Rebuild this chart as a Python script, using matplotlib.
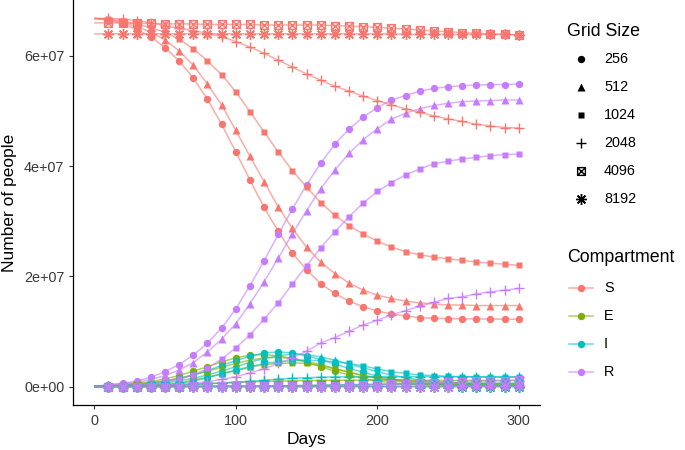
import matplotlib
matplotlib.use("Agg")
import matplotlib.pyplot as plt
from matplotlib.path import Path
from matplotlib.lines import Line2D
from matplotlib.ticker import FuncFormatter

plt.rcParams['font.family'] = ['Liberation Sans', 'DejaVu Sans']

# ---------------- data (millions of people) ----------------
days = list(range(0, 301, 10))
grid_sizes = ['256', '512', '1024', '2048', '4096', '8192']
compartments = ['S', 'E', 'I', 'R']
x_ticks = [0, 100, 200, 300]
y_ticks = [0, 2e7, 4e7, 6e7]

S_256 = [66.8, 66.5, 65.8, 64.8, 63.5, 61.5, 59.1, 56.0, 52.1, 47.6, 42.6, 37.5, 32.5, 28.2, 24.2, 21.2,
         18.7, 16.9, 15.5, 14.5, 13.7, 13.2, 12.8, 12.5, 12.4, 12.35, 12.3, 12.3, 12.25, 12.25, 12.2]
E_256 = [0.05, 0.2, 0.35, 0.6, 0.9, 1.4, 2.0, 2.8, 3.6, 4.5, 5.2, 5.7, 5.8, 5.6, 5.1, 4.4,
         3.6, 2.8, 2.1, 1.5, 1.0, 0.7, 0.5, 0.35, 0.25, 0.2, 0.15, 0.12, 0.1, 0.08, 0.07]
I_256 = [0.02, 0.1, 0.25, 0.4, 0.6, 1.0, 1.5, 2.1, 2.9, 3.8, 4.7, 5.5, 6.1, 6.3, 6.1, 5.6,
         4.9, 4.1, 3.3, 2.6, 1.9, 1.4, 1.0, 0.75, 0.55, 0.4, 0.3, 0.25, 0.2, 0.15, 0.12]
R_256 = [0.0, 0.36, 0.6, 1.0, 1.7, 2.7, 4.0, 5.7, 7.9, 10.6, 14.1, 18.3, 22.8, 27.6, 32.2, 36.6,
         40.5, 44.0, 46.7, 48.9, 50.6, 52.0, 52.8, 53.6, 54.1, 54.4, 54.6, 54.7, 54.8, 54.8, 54.9]

S_512 = [66.8, 66.6, 66.1, 65.3, 64.3, 62.9, 60.9, 58.3, 54.9, 51.1, 46.5, 41.8, 37.2, 32.6, 28.7, 25.3,
         22.6, 20.5, 18.8, 17.5, 16.6, 16.0, 15.5, 15.2, 15.0, 14.8, 14.8, 14.7, 14.7, 14.7, 14.7]
E_512 = [0.04, 0.15, 0.28, 0.45, 0.7, 1.05, 1.5, 2.1, 2.8, 3.5, 4.2, 4.8, 5.2, 5.3, 5.1, 4.6,
         4.0, 3.3, 2.6, 2.0, 1.5, 1.1, 0.8, 0.6, 0.45, 0.35, 0.28, 0.22, 0.18, 0.15, 0.13]
I_512 = [0.02, 0.08, 0.18, 0.3, 0.45, 0.7, 1.05, 1.5, 2.1, 2.8, 3.6, 4.4, 5.1, 5.6, 5.9, 5.8,
         5.4, 4.8, 4.1, 3.4, 2.7, 2.1, 1.6, 1.2, 0.95, 0.75, 0.6, 0.5, 0.42, 0.36, 0.32]
R_512 = [0.0, 0.3, 0.5, 0.8, 1.3, 2.0, 3.0, 4.35, 6.3, 8.6, 11.4, 15.0, 19.0, 23.3, 27.7, 31.9,
         35.9, 39.3, 42.3, 44.8, 46.8, 48.5, 49.6, 50.4, 51.0, 51.4, 51.7, 51.8, 51.9, 52.0, 52.0]

S_1024 = [66.8, 66.7, 66.3, 65.8, 65.1, 64.3, 63.0, 61.3, 59.1, 56.6, 53.5, 49.9, 46.2, 42.6, 39.2, 36.2,
          33.4, 31.1, 29.2, 27.7, 26.4, 25.3, 24.5, 23.9, 23.5, 23.2, 22.9, 22.6, 22.4, 22.2, 22.0]
E_1024 = [0.02, 0.06, 0.12, 0.2, 0.3, 0.45, 0.65, 1.2, 1.7, 2.3, 2.9, 3.5, 4.0, 4.2, 4.3, 4.2,
          3.8, 3.2, 2.6, 2.0, 1.6, 1.3, 1.1, 0.95, 0.8, 0.72, 0.66, 0.62, 0.6, 0.58, 0.56]
I_1024 = [0.01, 0.04, 0.08, 0.14, 0.22, 0.35, 0.55, 1.0, 1.6, 2.3, 3.0, 3.6, 4.2, 4.5, 4.7, 4.8,
          4.7, 4.5, 4.2, 3.75, 3.2, 2.7, 2.4, 2.1, 2.0, 1.85, 1.8, 1.75, 1.72, 1.7, 1.7]
R_1024 = [0.0, 0.1, 0.2, 0.3, 0.5, 0.8, 1.3, 2.1, 3.3, 5.0, 7.0, 9.4, 12.2, 15.2, 18.6, 21.9,
          25.2, 28.1, 30.8, 33.3, 35.4, 37.0, 38.4, 39.5, 40.4, 40.9, 41.3, 41.6, 41.9, 42.1, 42.2]

S_2048 = [66.8, 66.8, 66.7, 66.4, 66.0, 65.5, 65.0, 64.6, 64.1, 63.5, 62.6, 61.6, 60.5, 59.2, 58.0, 56.7,
          55.6, 54.5, 53.6, 52.7, 51.9, 51.1, 50.4, 49.8, 49.1, 48.6, 48.1, 47.6, 47.3, 47.0, 46.9]
E_2048 = [0.01, 0.05, 0.1, 0.15, 0.2, 0.27, 0.35, 0.45, 0.55, 0.65, 0.75, 0.85, 0.93, 1.0, 1.05, 1.1,
          1.12, 1.14, 1.15, 1.15, 1.15, 1.15, 1.14, 1.14, 1.13, 1.13, 1.12, 1.12, 1.11, 1.1, 1.1]
I_2048 = [0.005, 0.02, 0.05, 0.09, 0.14, 0.2, 0.28, 0.38, 0.5, 0.65, 0.8, 0.97, 1.15, 1.35, 1.5, 1.62,
          1.7, 1.75, 1.78, 1.8, 1.8, 1.8, 1.8, 1.8, 1.8, 1.8, 1.8, 1.8, 1.8, 1.8, 1.8]
R_2048 = [0.0, 0.02, 0.04, 0.08, 0.15, 0.25, 0.4, 0.6, 0.9, 1.3, 1.8, 2.5, 3.2, 4.2, 5.2, 6.4,
          7.9, 8.9, 10.0, 11.2, 12.0, 13.0, 13.8, 14.6, 15.3, 16.0, 16.3, 16.8, 17.2, 17.5, 17.8]

S_4096 = [66.0, 66.0, 66.0, 65.9, 65.9, 65.8, 65.8, 65.8, 65.7, 65.7, 65.7, 65.7, 65.6, 65.6, 65.6, 65.6,
          65.6, 65.5, 65.4, 65.3, 65.2, 65.0, 64.9, 64.7, 64.5, 64.4, 64.2, 64.1, 64.0, 63.9, 63.8]
E_4096 = [0.0, 0.01, 0.01, 0.02, 0.02, 0.03, 0.03, 0.04, 0.05, 0.06, 0.07, 0.08, 0.1, 0.13, 0.16, 0.2,
          0.23, 0.26, 0.29, 0.32, 0.35, 0.37, 0.38, 0.39, 0.4, 0.4, 0.4, 0.4, 0.4, 0.4, 0.4]
I_4096 = [0.0, 0.0, 0.01, 0.01, 0.02, 0.02, 0.03, 0.03, 0.04, 0.05, 0.06, 0.07, 0.09, 0.12, 0.15, 0.2,
          0.25, 0.3, 0.35, 0.4, 0.45, 0.48, 0.5, 0.52, 0.54, 0.55, 0.57, 0.58, 0.59, 0.6, 0.6]
R_4096 = [0.0, 0.0, 0.0, 0.0, 0.01, 0.01, 0.01, 0.02, 0.02, 0.03, 0.03, 0.04, 0.05, 0.06, 0.08, 0.1,
          0.13, 0.17, 0.22, 0.28, 0.35, 0.42, 0.5, 0.58, 0.66, 0.75, 0.84, 0.93, 1.02, 1.1, 1.2]

S_8192 = [64.0, 64.0, 64.0, 64.0, 64.0, 64.0, 64.0, 64.0, 64.0, 64.0, 64.0, 64.0, 64.0, 64.0, 64.0, 64.0,
          64.0, 64.0, 64.0, 64.0, 64.0, 64.0, 63.9, 63.9, 63.9, 63.9, 63.9, 63.9, 63.9, 63.9, 63.8]
E_8192 = [0.0, 0.01, 0.01, 0.01, 0.01, 0.01, 0.01, 0.01, 0.01, 0.01, 0.01, 0.01, 0.01, 0.01, 0.01, 0.01,
          0.01, 0.01, 0.01, 0.01, 0.01, 0.01, 0.01, 0.01, 0.01, 0.01, 0.01, 0.01, 0.01, 0.01, 0.01]
I_8192 = [0.0, 0.0, 0.0, 0.01, 0.01, 0.01, 0.01, 0.01, 0.01, 0.01, 0.01, 0.01, 0.01, 0.01, 0.01, 0.01,
          0.01, 0.01, 0.01, 0.01, 0.01, 0.01, 0.01, 0.01, 0.01, 0.01, 0.01, 0.01, 0.01, 0.01, 0.01]
R_8192 = [0.0, 0.0, 0.0, 0.0, 0.0, 0.0, 0.0, 0.0, 0.0, 0.0, 0.0, 0.0, 0.0, 0.0, 0.0, 0.0,
          0.0, 0.0, 0.0, 0.0, 0.01, 0.01, 0.01, 0.01, 0.01, 0.01, 0.02, 0.02, 0.02, 0.02, 0.02]

series = {
    '256': {'S': S_256, 'E': E_256, 'I': I_256, 'R': R_256},
    '512': {'S': S_512, 'E': E_512, 'I': I_512, 'R': R_512},
    '1024': {'S': S_1024, 'E': E_1024, 'I': I_1024, 'R': R_1024},
    '2048': {'S': S_2048, 'E': E_2048, 'I': I_2048, 'R': R_2048},
    '4096': {'S': S_4096, 'E': E_4096, 'I': I_4096, 'R': R_4096},
    '8192': {'S': S_8192, 'E': E_8192, 'I': I_8192, 'R': R_8192},
}
SCALE = 1e6

# ---------------- styles ----------------
comp_colors = {'S': '#F8766D', 'E': '#7CAE00', 'I': '#00BFC4', 'R': '#C77CFF'}

boxx = Path([(-1, -1), (1, -1), (1, 1), (-1, 1), (-1, -1), (-1, -1), (1, 1), (-1, 1), (1, -1)],
            [Path.MOVETO, Path.LINETO, Path.LINETO, Path.LINETO, Path.CLOSEPOLY,
             Path.MOVETO, Path.LINETO, Path.MOVETO, Path.LINETO])
marker_style = {
    '256': dict(marker='o', ms=5.3, filled=True),
    '512': dict(marker='^', ms=6.2, filled=True),
    '1024': dict(marker='s', ms=4.9, filled=True),
    '2048': dict(marker='+', ms=7.8, filled=False),
    '4096': dict(marker=boxx, ms=5.6, filled=False),
    '8192': dict(marker=(8, 2, 0), ms=7.8, filled=False),
}

W, H = 685, 450
fig = plt.figure(figsize=(W / 100, H / 100), dpi=100)
ax = fig.add_axes([73 / W, 45 / H, (540 - 73) / W, 405 / H])

# lines first, then points (ggplot layer order)
for g in grid_sizes:
    for c in compartments:
        y = [v * SCALE for v in series[g][c]]
        ax.plot(days, y, color=comp_colors[c], lw=1.1, alpha=0.6, zorder=2, solid_capstyle='butt')
for g in grid_sizes:
    st = marker_style[g]
    for c in compartments:
        y = [v * SCALE for v in series[g][c]]
        if st['filled']:
            ax.plot(days[1:], y[1:], ls='none', marker=st['marker'], ms=st['ms'],
                    color=comp_colors[c], mec='none', zorder=3)
        else:
            ax.plot(days[1:], y[1:], ls='none', marker=st['marker'], ms=st['ms'],
                    color=comp_colors[c], mfc='none', mew=1.0, zorder=3)

# ggplot-like limits (5% expansion)
all_vals = [v * SCALE for g in grid_sizes for c in compartments for v in series[g][c]]
lo, hi = min(all_vals), max(all_vals)
pad = 0.05 * (hi - lo)
ax.set_ylim(lo - pad, hi + pad)
xpad = 0.05 * (max(days) - min(days))
ax.set_xlim(min(days) - xpad, max(days) + xpad)

ax.set_xticks(x_ticks)
ax.set_yticks(y_ticks)
ax.yaxis.set_major_formatter(FuncFormatter(lambda v, p: format(v, '.0e')))
for side in ['top', 'right']:
    ax.spines[side].set_visible(False)
for side in ['left', 'bottom']:
    ax.spines[side].set_linewidth(0.9)
    ax.spines[side].set_color('black')
ax.tick_params(axis='both', direction='out', length=3.2, width=0.8, color='#333333',
               labelsize=10.4, labelcolor='#3A3A3A', pad=3)
ax.set_xlabel('Days', fontsize=12.5, color='black', labelpad=3)
ax.set_ylabel('Number of people', fontsize=12.5, color='black', labelpad=5)
ax.set_facecolor('white')


# ---------------- legends (drawn in figure pixels) ----------------
def fx(px):
    return px / W


def fy(py):
    return 1 - py / H


fig.text(fx(567), fy(31), 'Grid Size', fontsize=12.8, va='center', ha='left', color='black')
for i, g in enumerate(grid_sizes):
    yy = 59.3 + 28 * i
    st = marker_style[g]
    kw = dict(ls='none', marker=st['marker'], ms=st['ms'], color='black',
              transform=fig.transFigure)
    if st['filled']:
        kw['mec'] = 'none'
    else:
        kw['mfc'] = 'none'
        kw['mew'] = 1.0
    fig.add_artist(Line2D([fx(580.7)], [fy(yy)], **kw))
    fig.text(fx(604), fy(yy), g, fontsize=10.4, va='center', ha='left', color='black')

fig.text(fx(567), fy(257), 'Compartment', fontsize=12.8, va='center', ha='left', color='black')
for i, c in enumerate(compartments):
    yy = 287.7 + 28 * i
    fig.add_artist(Line2D([fx(569), fx(593)], [fy(yy), fy(yy)], color=comp_colors[c], lw=1.1,
                          alpha=0.6, transform=fig.transFigure))
    fig.add_artist(Line2D([fx(580.7)], [fy(yy)], ls='none', marker='o', ms=5.3,
                          color=comp_colors[c], mec='none', transform=fig.transFigure))
    fig.text(fx(604), fy(yy), c, fontsize=10.4, va='center', ha='left', color='black')

fig.savefig('out.png', dpi=100, facecolor='white')
